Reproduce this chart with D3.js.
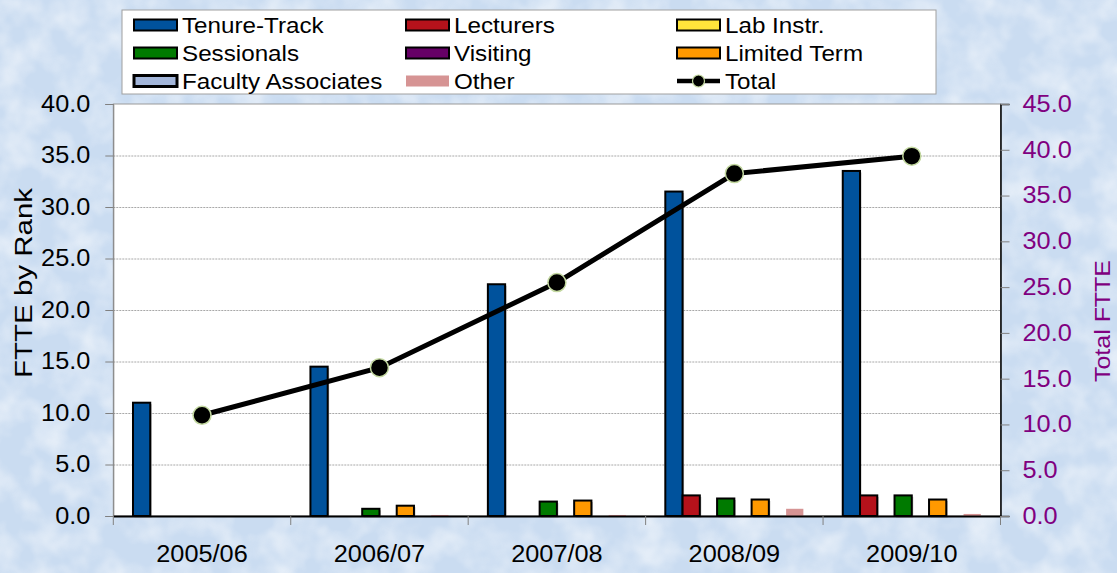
<!DOCTYPE html>
<html>
<head>
<meta charset="utf-8">
<script src="https://cdn.jsdelivr.net/npm/d3@7"></script>
<style>
  body { margin: 0; background: #d4e4f4; }
  svg text { font-family: "Liberation Sans", Arial, sans-serif; }
</style>
</head>
<body>
<div id="chart-area"></div>
<script>
// data
const years = ["2005/06", "2006/07", "2007/08", "2008/09", "2009/10"];
const seriesNames = ["Tenure-Track", "Lecturers", "Lab Instr.", "Sessionals",
                     "Visiting", "Limited Term", "Faculty Associates", "Other"];
const tenureTrack  = [11.0, 14.5, 22.5, 31.5, 33.5];
const lecturers    = [0, 0, 0, 2.0, 2.0];
const labInstr     = [0, 0, 0, 0, 0];
const sessionals   = [0, 0.7, 1.4, 1.7, 2.0];
const visiting     = [0, 0, 0, 0, 0];
const limitedTerm  = [0, 1.0, 1.5, 1.6, 1.6];
const facultyAssoc = [0, 0, 0, 0, 0];
const other        = [0, 0.1, 0.1, 0.7, 0.2];
const total        = [11.0, 16.2, 25.5, 37.4, 39.3];
const leftTicks  = [0, 5, 10, 15, 20, 25, 30, 35, 40];
const rightTicks = [0, 5, 10, 15, 20, 25, 30, 35, 40, 45];

const seriesValues = [tenureTrack, lecturers, labInstr, sessionals,
                      visiting, limitedTerm, facultyAssoc, other];
const colors = ["#00529c", "#b5121b", "#ffe53b", "#007a00",
                "#660066", "#ff9900", "#a3b6da", "#d69494"];
const purple = "#800080";

// sizes
let W = 1117, H = 573;
let plot = { lft: 113.3, rht: 1000.5, top: 104, bot: 516 };
const stretch = 1.1; // text in the picture is a bit wide

let svg = d3.select("#chart-area")
  .append("svg")
    .attr("width", W)
    .attr("height", H);

// textured background
let defs = svg.append("defs");
let tex = defs.append("filter").attr("id", "tex")
  .attr("x", 0).attr("y", 0).attr("width", 1).attr("height", 1);
tex.append("feTurbulence")
  .attr("type", "fractalNoise")
  .attr("baseFrequency", "0.03")
  .attr("numOctaves", 3)
  .attr("seed", 7);
tex.append("feColorMatrix")
  .attr("type", "matrix")
  .attr("values", "0 0 0 0 1  0 0 0 0 1  0 0 0 0 1  1.6 0 0 0 -0.6");

svg.append("rect")
  .attr("width", W).attr("height", H)
  .attr("fill", "#cadcf1");
svg.append("rect")
  .attr("width", W).attr("height", H)
  .attr("filter", "url(#tex)")
  .attr("opacity", 0.7);

// plot area
svg.append("rect")
  .attr("x", plot.lft).attr("y", plot.top)
  .attr("width", plot.rht - plot.lft)
  .attr("height", plot.bot - plot.top)
  .attr("fill", "white")
  .attr("stroke", "#9a9a9a");

// scales
let x0 = d3.scaleBand()
  .domain(years)
  .range([plot.lft, plot.rht]);

let bw = x0.bandwidth();
let x1 = d3.scaleBand()
  .domain(seriesNames)
  .range([bw * 0.111, bw * 0.889]);

let yL = d3.scaleLinear().domain([0, 40]).range([plot.bot, plot.top]);
let yR = d3.scaleLinear().domain([0, 45]).range([plot.bot, plot.top]);

// gridlines
svg.append("g")
  .attr("class", "grid")
  .attr("transform", `translate(${plot.lft}, 0)`)
  .call(d3.axisLeft(yL).tickValues(leftTicks.slice(1, -1))
    .tickSize(-(plot.rht - plot.lft)).tickFormat(""))
  .call(g => g.select(".domain").remove())
  .selectAll("line")
    .attr("stroke", "#a8a8a8")
    .attr("stroke-dasharray", "2,1");

// bars
let bars = [];
seriesNames.forEach((s, i) => {
  seriesValues[i].forEach((v, j) => {
    if (v > 0) bars.push({ s: s, i: i, year: years[j], v: v });
  });
});

let barG = svg.append("g");
barG.selectAll("rect.shadow")
  .data(bars.filter(d => d.s != "Other"))
  .enter().append("rect")
    .attr("class", "shadow")
    .attr("x", d => x0(d.year) + x1(d.s) + 1.5)
    .attr("y", d => yL(d.v) + 1.5)
    .attr("width", x1.bandwidth())
    .attr("height", d => plot.bot - yL(d.v))
    .attr("fill", "#9a9a9a")
    .attr("opacity", 0.6);

barG.selectAll("rect.bar")
  .data(bars)
  .enter().append("rect")
    .attr("class", "bar")
    .attr("x", d => x0(d.year) + x1(d.s))
    .attr("y", d => yL(d.v))
    .attr("width", x1.bandwidth())
    .attr("height", d => plot.bot - yL(d.v))
    .attr("fill", d => colors[d.i])
    .attr("stroke", d => d.s == "Other" ? "none" : "#000")
    .attr("stroke-width", 2);

// left axis
let yAxisL = svg.append("g")
  .attr("transform", `translate(${plot.lft}, 0)`)
  .call(d3.axisLeft(yL).tickValues(leftTicks)
    .tickSize(8).tickPadding(15).tickFormat(d3.format(".1f")));
yAxisL.select(".domain").attr("stroke", "#808080");
yAxisL.selectAll(".tick line").attr("stroke", "#808080");
yAxisL.selectAll("text")
  .attr("class", "stretch")
  .attr("font-size", "23px")
  .attr("fill", "#000");

// right axis
let yAxisR = svg.append("g")
  .attr("transform", `translate(${plot.rht}, 0)`)
  .call(d3.axisRight(yR).tickValues(rightTicks)
    .tickSize(9).tickPadding(13).tickFormat(d3.format(".1f")));
yAxisR.select(".domain").attr("stroke", "#000").attr("stroke-width", 1.5);
yAxisR.selectAll(".tick line").attr("stroke", "#808080");
yAxisR.selectAll("text")
  .attr("class", "stretch")
  .attr("font-size", "23px")
  .attr("fill", purple);

// x axis
let xAxis = svg.append("g")
  .attr("transform", `translate(0, ${plot.bot})`)
  .call(d3.axisBottom(x0).tickSize(0).tickPadding(30));
xAxis.select(".domain").attr("stroke", "#000").attr("stroke-width", 2);
xAxis.selectAll("text")
  .attr("class", "stretch")
  .attr("font-size", "23px")
  .attr("fill", "#000");

xAxis.selectAll("line.sep")
  .data(years.concat(["end"]))
  .enter().append("line")
    .attr("class", "sep")
    .attr("x1", d => d == "end" ? plot.rht : x0(d))
    .attr("x2", d => d == "end" ? plot.rht : x0(d))
    .attr("y1", 0).attr("y2", 9)
    .attr("stroke", "#808080");

// total line
let line = d3.line()
  .x((d, j) => x0(years[j]) + bw / 2)
  .y(d => yR(d));

svg.append("path")
  .datum(total)
  .attr("d", line)
  .attr("fill", "none")
  .attr("stroke", "#000")
  .attr("stroke-width", 5);

svg.selectAll("circle.pt")
  .data(total)
  .enter().append("circle")
    .attr("class", "pt")
    .attr("cx", (d, j) => x0(years[j]) + bw / 2)
    .attr("cy", d => yR(d))
    .attr("r", 9)
    .attr("fill", "#000")
    .attr("stroke", "#c3d8a0")
    .attr("stroke-width", 1.5);

// axis titles
svg.append("text")
  .attr("transform", "translate(32, 283) rotate(-90)")
  .attr("text-anchor", "middle")
  .attr("font-size", "23px")
  .attr("textLength", 190)
  .attr("lengthAdjust", "spacingAndGlyphs")
  .text("FTTE by Rank");

svg.append("text")
  .attr("transform", "translate(1110, 321) rotate(-90)")
  .attr("text-anchor", "middle")
  .attr("font-size", "22px")
  .attr("fill", purple)
  .attr("textLength", 122)
  .attr("lengthAdjust", "spacingAndGlyphs")
  .text("Total FTTE");

// legend
let legend = svg.append("g");
legend.append("rect")
  .attr("x", 122).attr("y", 10)
  .attr("width", 814).attr("height", 84)
  .attr("fill", "white")
  .attr("stroke", "#a0a0a0");

let legItems = seriesNames.concat(["Total"]);
let colX = [134, 406, 677];
let rowY = [25, 53, 81];

let item = legend.selectAll("g.item")
  .data(legItems)
  .enter().append("g")
    .attr("class", "item")
    .attr("transform", (d, i) => `translate(${colX[i % 3]}, ${rowY[Math.floor(i / 3)]})`);

item.filter(d => d != "Total")
  .append("rect")
    .attr("x", 0).attr("y", -5.5)
    .attr("width", 43).attr("height", 11)
    .attr("fill", (d, i) => colors[i])
    .attr("stroke", d => d == "Other" ? "none" : "#000")
    .attr("stroke-width", d => d == "Faculty Associates" ? 3 : 2);

let totItem = item.filter(d => d == "Total");
totItem.append("line")
  .attr("x1", 0).attr("x2", 43)
  .attr("stroke", "#000").attr("stroke-width", 4.5);
totItem.append("circle")
  .attr("cx", 21.5).attr("r", 6)
  .attr("fill", "#000")
  .attr("stroke", "#c3d8a0").attr("stroke-width", 1.2);

item.append("text")
  .attr("class", "stretch")
  .attr("x", 48).attr("y", 8)
  .attr("font-size", "22px")
  .text(d => d);

// widen the horizontal texts like in the picture
svg.selectAll("text.stretch").each(function () {
  let w = this.getComputedTextLength();
  d3.select(this)
    .attr("textLength", w * stretch)
    .attr("lengthAdjust", "spacingAndGlyphs");
});
</script>
</body>
</html>
